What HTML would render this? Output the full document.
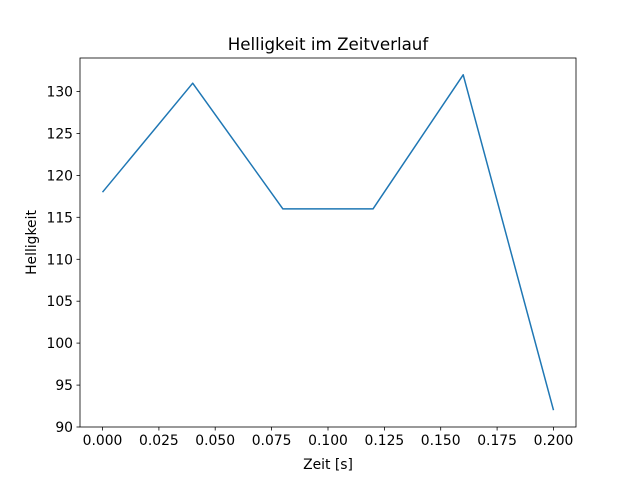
<!DOCTYPE html>
<html><head><meta charset="utf-8"><style>
body{margin:0;background:#fff;}
svg{display:block;font-family:"DejaVu Sans","Liberation Sans",sans-serif;}
</style></head><body>
<svg width="640" height="480" viewBox="0 0 640 480" xmlns="http://www.w3.org/2000/svg">
<rect width="640" height="480" fill="#fff"/>
<polyline fill="none" stroke="#1f77b4" stroke-width="1.5" stroke-linejoin="round" points="102.5,192.2 192.7,83.2 282.9,208.9 373.0,208.9 463.2,74.8 553.5,410.2"/>
<rect x="80" y="58" width="496" height="369" fill="none" stroke="#000" stroke-width="0.8"/>
<g stroke="#000" stroke-width="0.8">
<line x1="102.5" y1="427" x2="102.5" y2="430.5"/>
<line x1="158.9" y1="427" x2="158.9" y2="430.5"/>
<line x1="215.2" y1="427" x2="215.2" y2="430.5"/>
<line x1="271.6" y1="427" x2="271.6" y2="430.5"/>
<line x1="328" y1="427" x2="328" y2="430.5"/>
<line x1="384.4" y1="427" x2="384.4" y2="430.5"/>
<line x1="440.7" y1="427" x2="440.7" y2="430.5"/>
<line x1="497.1" y1="427" x2="497.1" y2="430.5"/>
<line x1="553.5" y1="427" x2="553.5" y2="430.5"/>
<line x1="76.5" y1="427" x2="80" y2="427"/>
<line x1="76.5" y1="385.1" x2="80" y2="385.1"/>
<line x1="76.5" y1="343.1" x2="80" y2="343.1"/>
<line x1="76.5" y1="301.2" x2="80" y2="301.2"/>
<line x1="76.5" y1="259.3" x2="80" y2="259.3"/>
<line x1="76.5" y1="217.3" x2="80" y2="217.3"/>
<line x1="76.5" y1="175.4" x2="80" y2="175.4"/>
<line x1="76.5" y1="133.5" x2="80" y2="133.5"/>
<line x1="76.5" y1="91.5" x2="80" y2="91.5"/>
</g>
<g font-size="13.9" text-anchor="middle" fill="#000">
<text x="102.5" y="445">0.000</text>
<text x="158.9" y="445">0.025</text>
<text x="215.2" y="445">0.050</text>
<text x="271.6" y="445">0.075</text>
<text x="328" y="445">0.100</text>
<text x="384.4" y="445">0.125</text>
<text x="440.7" y="445">0.150</text>
<text x="497.1" y="445">0.175</text>
<text x="553.5" y="445">0.200</text>
</g>
<g font-size="13.9" text-anchor="end" fill="#000">
<text x="73" y="432">90</text>
<text x="73" y="390.1">95</text>
<text x="73" y="348.1">100</text>
<text x="73" y="306.2">105</text>
<text x="73" y="264.3">110</text>
<text x="73" y="222.3">115</text>
<text x="73" y="180.4">120</text>
<text x="73" y="138.5">125</text>
<text x="73" y="96.5">130</text>
</g>
<text x="328" y="469" font-size="13.9" text-anchor="middle">Zeit [s]</text>
<text transform="translate(36,242.5) rotate(-90)" font-size="13.9" text-anchor="middle">Helligkeit</text>
<text x="328" y="50" font-size="16.7" text-anchor="middle">Helligkeit im Zeitverlauf</text>
</svg>
</body></html>
